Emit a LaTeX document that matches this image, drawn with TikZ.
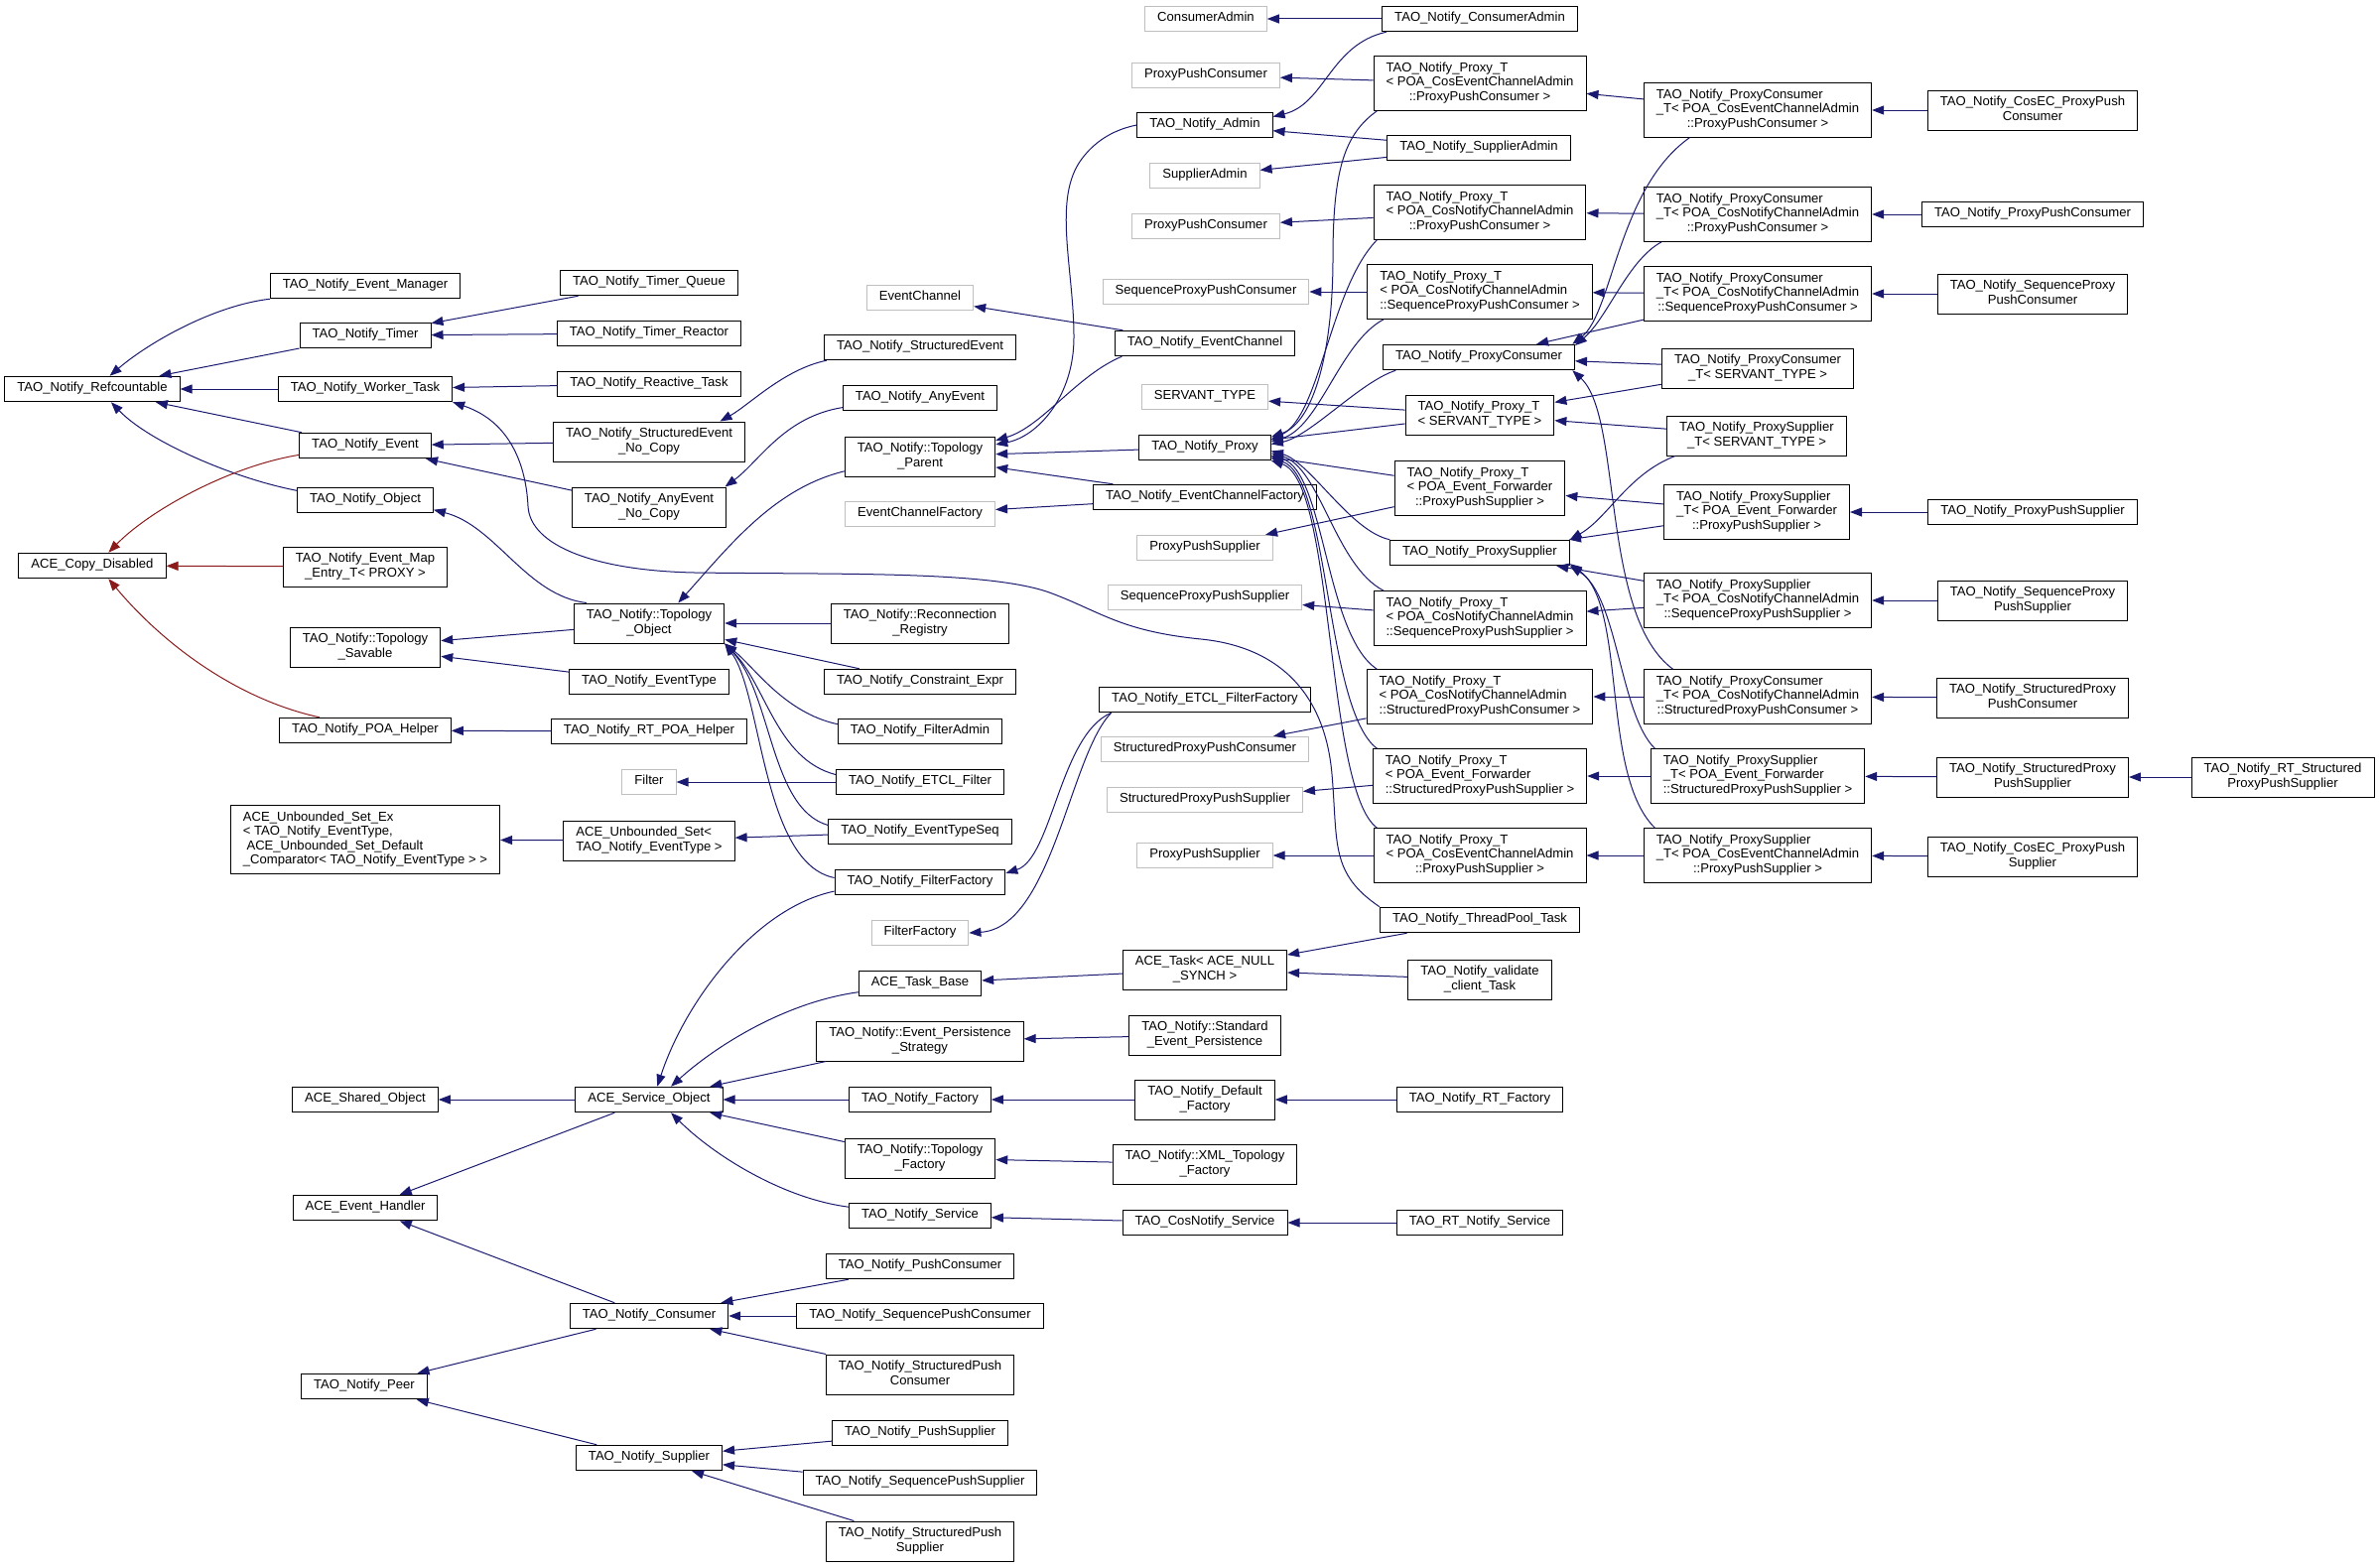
\documentclass[tikz,border=0pt]{standalone}
\usepackage{fontspec}
\setmainfont{Liberation Sans}
\usetikzlibrary{arrows.meta}
\definecolor{edgeblue}{HTML}{191970}
\definecolor{edgered}{HTML}{8B1A1A}
\definecolor{boxgray}{HTML}{BFBFBF}
\newcommand{\nlines}[1]{\begin{tabular}{@{}l@{}}#1\end{tabular}}
\newcommand{\lastline}[1]{\multicolumn{1}{@{}c@{}}{#1}}

\begin{document}
\begin{tikzpicture}[x=1pt, y=-1pt, font=\fontsize{13.1}{14.5}\selectfont,
    cls/.style={draw=black, line width=1pt, inner xsep=12.5pt, inner ysep=5.5pt},
    ext/.style={cls, draw=boxgray},
    inh/.style={draw=edgeblue, line width=1pt, {Triangle[length=12pt, width=9pt]}-},
    cpy/.style={inh, draw=edgered}]
    \path [use as bounding box, fill=white] (0,0) rectangle (2397,1579);

    \node [cls] (refc) at (93,392) {\nlines{TAO\_Notify\_Refcountable}};
    \node [cls] (copydis) at (93,570) {\nlines{ACE\_Copy\_Disabled}};

    \node [cls] (evmgr) at (368,288) {\nlines{TAO\_Notify\_Event\_Manager}};
    \node [cls] (timer) at (368,338) {\nlines{TAO\_Notify\_Timer}};
    \node [cls] (worker) at (368,392) {\nlines{TAO\_Notify\_Worker\_Task}};
    \node [cls] (event) at (368,449) {\nlines{TAO\_Notify\_Event}};
    \node [cls] (object) at (368,504) {\nlines{TAO\_Notify\_Object}};
    \node [cls] (mapentry) at (368,571) {\nlines{TAO\_Notify\_Event\_Map\\\lastline{\_Entry\_T< PROXY >}}};
    \node [cls] (savable) at (368,652) {\nlines{TAO\_Notify::Topology\\\lastline{\_Savable}}};
    \node [cls] (poahelper) at (368,736) {\nlines{TAO\_Notify\_POA\_Helper}};
    \node [cls] (unbsetex) at (368,846) {\nlines{ACE\_Unbounded\_Set\_Ex\\< TAO\_Notify\_EventType,\\\ ACE\_Unbounded\_Set\_Default\\\lastline{\_Comparator< TAO\_Notify\_EventType > >}}};
    \node [cls] (sharedobj) at (368,1108) {\nlines{ACE\_Shared\_Object}};
    \node [cls] (evhandler) at (368,1217) {\nlines{ACE\_Event\_Handler}};
    \node [cls] (peer) at (367,1397) {\nlines{TAO\_Notify\_Peer}};

    \node [cls] (tqueue) at (654,285) {\nlines{TAO\_Notify\_Timer\_Queue}};
    \node [cls] (treactor) at (654,336) {\nlines{TAO\_Notify\_Timer\_Reactor}};
    \node [cls] (reactive) at (654,387) {\nlines{TAO\_Notify\_Reactive\_Task}};
    \node [cls] (senocopy) at (654,445) {\nlines{TAO\_Notify\_StructuredEvent\\\lastline{\_No\_Copy}}};
    \node [cls] (aenocopy) at (654,511) {\nlines{TAO\_Notify\_AnyEvent\\\lastline{\_No\_Copy}}};
    \node [cls] (topobj) at (654,628) {\nlines{TAO\_Notify::Topology\\\lastline{\_Object}}};
    \node [cls] (evtype) at (654,687) {\nlines{TAO\_Notify\_EventType}};
    \node [cls] (rtpoa) at (654,737) {\nlines{TAO\_Notify\_RT\_POA\_Helper}};
    \node [ext] (filter) at (654,788) {\nlines{Filter}};
    \node [cls] (unbset) at (654,847) {\nlines{ACE\_Unbounded\_Set<\\\lastline{TAO\_Notify\_EventType >}}};
    \node [cls] (svcobj) at (654,1108) {\nlines{ACE\_Service\_Object}};
    \node [cls] (consumer) at (654,1326) {\nlines{TAO\_Notify\_Consumer}};
    \node [cls] (supplier) at (654,1469) {\nlines{TAO\_Notify\_Supplier}};

    \node [ext] (evchan) at (927,300) {\nlines{EventChannel}};
    \node [cls] (sevent) at (927,350) {\nlines{TAO\_Notify\_StructuredEvent}};
    \node [cls] (aevent) at (927,401) {\nlines{TAO\_Notify\_AnyEvent}};
    \node [cls] (topparent) at (927,460) {\nlines{TAO\_Notify::Topology\\\lastline{\_Parent}}};
    \node [ext] (ecfact) at (927,518) {\nlines{EventChannelFactory}};
    \node [cls] (reconreg) at (927,628) {\nlines{TAO\_Notify::Reconnection\\\lastline{\_Registry}}};
    \node [cls] (constr) at (927,687) {\nlines{TAO\_Notify\_Constraint\_Expr}};
    \node [cls] (filteradm) at (927,737) {\nlines{TAO\_Notify\_FilterAdmin}};
    \node [cls] (etclfilter) at (927,788) {\nlines{TAO\_Notify\_ETCL\_Filter}};
    \node [cls] (evtypeseq) at (927,838) {\nlines{TAO\_Notify\_EventTypeSeq}};
    \node [cls] (filterfact) at (927,889) {\nlines{TAO\_Notify\_FilterFactory}};
    \node [ext] (filterfactg) at (927,940) {\nlines{FilterFactory}};
    \node [cls] (taskbase) at (927,991) {\nlines{ACE\_Task\_Base}};
    \node [cls] (evpersist) at (927,1049) {\nlines{TAO\_Notify::Event\_Persistence\\\lastline{\_Strategy}}};
    \node [cls] (factory) at (927,1108) {\nlines{TAO\_Notify\_Factory}};
    \node [cls] (topfact) at (927,1167) {\nlines{TAO\_Notify::Topology\\\lastline{\_Factory}}};
    \node [cls] (service) at (927,1225) {\nlines{TAO\_Notify\_Service}};
    \node [cls] (pushcons) at (927,1276) {\nlines{TAO\_Notify\_PushConsumer}};
    \node [cls] (seqpushcons) at (927,1326) {\nlines{TAO\_Notify\_SequencePushConsumer}};
    \node [cls] (strpushcons) at (927,1385) {\nlines{TAO\_Notify\_StructuredPush\\\lastline{Consumer}}};
    \node [cls] (pushsup) at (927,1444) {\nlines{TAO\_Notify\_PushSupplier}};
    \node [cls] (seqpushsup) at (927,1494) {\nlines{TAO\_Notify\_SequencePushSupplier}};
    \node [cls] (strpushsup) at (927,1553) {\nlines{TAO\_Notify\_StructuredPush\\\lastline{Supplier}}};

    \node [ext] (consadmg) at (1215,19) {\nlines{ConsumerAdmin}};
    \node [ext] (ppcg) at (1215,76) {\nlines{ProxyPushConsumer}};
    \node [cls] (admin) at (1214,126) {\nlines{TAO\_Notify\_Admin}};
    \node [ext] (supadmg) at (1214,177) {\nlines{SupplierAdmin}};
    \node [ext] (ppcgb) at (1215,228) {\nlines{ProxyPushConsumer}};
    \node [ext] (seqppcg) at (1215,294) {\nlines{SequenceProxyPushConsumer}};
    \node [cls] (tevchan) at (1214,346) {\nlines{TAO\_Notify\_EventChannel}};
    \node [ext] (servantg) at (1214,400) {\nlines{SERVANT\_TYPE}};
    \node [cls] (proxy) at (1214,451) {\nlines{TAO\_Notify\_Proxy}};
    \node [cls] (tecfact) at (1214,501) {\nlines{TAO\_Notify\_EventChannelFactory}};
    \node [ext] (ppsg) at (1214,552) {\nlines{ProxyPushSupplier}};
    \node [ext] (seqppsg) at (1214,602) {\nlines{SequenceProxyPushSupplier}};
    \node [cls] (etclff) at (1214,705) {\nlines{TAO\_Notify\_ETCL\_FilterFactory}};
    \node [ext] (strppcg) at (1214,755) {\nlines{StructuredProxyPushConsumer}};
    \node [ext] (strppsg) at (1214,806) {\nlines{StructuredProxyPushSupplier}};
    \node [ext] (ppsgb) at (1214,862) {\nlines{ProxyPushSupplier}};
    \node [cls] (acetask) at (1214,977) {\nlines{ACE\_Task< ACE\_NULL\\\lastline{\_SYNCH >}}};
    \node [cls] (stdpersist) at (1214,1043) {\nlines{TAO\_Notify::Standard\\\lastline{\_Event\_Persistence}}};
    \node [cls] (deffact) at (1214,1108) {\nlines{TAO\_Notify\_Default\\\lastline{\_Factory}}};
    \node [cls] (xmlfact) at (1214,1173) {\nlines{TAO\_Notify::XML\_Topology\\\lastline{\_Factory}}};
    \node [cls] (cosnotsvc) at (1214,1232) {\nlines{TAO\_CosNotify\_Service}};

    \node [cls] (tconsadm) at (1491,19) {\nlines{TAO\_Notify\_ConsumerAdmin}};
    \node [cls] (ptecppc) at (1491,84) {\nlines{TAO\_Notify\_Proxy\_T\\< POA\_CosEventChannelAdmin\\\lastline{::ProxyPushConsumer >}}};
    \node [cls] (tsupadm) at (1490,149) {\nlines{TAO\_Notify\_SupplierAdmin}};
    \node [cls] (ptncppc) at (1491,214) {\nlines{TAO\_Notify\_Proxy\_T\\< POA\_CosNotifyChannelAdmin\\\lastline{::ProxyPushConsumer >}}};
    \node [cls] (ptnsppc) at (1491,294) {\nlines{TAO\_Notify\_Proxy\_T\\< POA\_CosNotifyChannelAdmin\\\lastline{::SequenceProxyPushConsumer >}}};
    \node [cls] (pcons) at (1490,360) {\nlines{TAO\_Notify\_ProxyConsumer}};
    \node [cls] (ptserv) at (1491,418) {\nlines{TAO\_Notify\_Proxy\_T\\\lastline{< SERVANT\_TYPE >}}};
    \node [cls] (ptefpps) at (1491,492) {\nlines{TAO\_Notify\_Proxy\_T\\< POA\_Event\_Forwarder\\\lastline{::ProxyPushSupplier >}}};
    \node [cls] (psup) at (1491,557) {\nlines{TAO\_Notify\_ProxySupplier}};
    \node [cls] (ptnspps) at (1491,623) {\nlines{TAO\_Notify\_Proxy\_T\\< POA\_CosNotifyChannelAdmin\\\lastline{::SequenceProxyPushSupplier >}}};
    \node [cls] (ptnstppc) at (1491,702) {\nlines{TAO\_Notify\_Proxy\_T\\< POA\_CosNotifyChannelAdmin\\\lastline{::StructuredProxyPushConsumer >}}};
    \node [cls] (ptefstpps) at (1491,782) {\nlines{TAO\_Notify\_Proxy\_T\\< POA\_Event\_Forwarder\\\lastline{::StructuredProxyPushSupplier >}}};
    \node [cls] (ptecpps) at (1491,862) {\nlines{TAO\_Notify\_Proxy\_T\\< POA\_CosEventChannelAdmin\\\lastline{::ProxyPushSupplier >}}};
    \node [cls] (threadpool) at (1491,927) {\nlines{TAO\_Notify\_ThreadPool\_Task}};
    \node [cls] (validate) at (1491,987) {\nlines{TAO\_Notify\_validate\\\lastline{\_client\_Task}}};
    \node [cls] (rtfact) at (1491,1108) {\nlines{TAO\_Notify\_RT\_Factory}};
    \node [cls] (rtsvc) at (1491,1232) {\nlines{TAO\_RT\_Notify\_Service}};

    \node [cls] (pcecppc) at (1771,111) {\nlines{TAO\_Notify\_ProxyConsumer\\\_T< POA\_CosEventChannelAdmin\\\lastline{::ProxyPushConsumer >}}};
    \node [cls] (pcncppc) at (1771,216) {\nlines{TAO\_Notify\_ProxyConsumer\\\_T< POA\_CosNotifyChannelAdmin\\\lastline{::ProxyPushConsumer >}}};
    \node [cls] (pcnsppc) at (1771,296) {\nlines{TAO\_Notify\_ProxyConsumer\\\_T< POA\_CosNotifyChannelAdmin\\\lastline{::SequenceProxyPushConsumer >}}};
    \node [cls] (pcserv) at (1771,371) {\nlines{TAO\_Notify\_ProxyConsumer\\\lastline{\_T< SERVANT\_TYPE >}}};
    \node [cls] (psserv) at (1770,439) {\nlines{TAO\_Notify\_ProxySupplier\\\lastline{\_T< SERVANT\_TYPE >}}};
    \node [cls] (psefpps) at (1770,516) {\nlines{TAO\_Notify\_ProxySupplier\\\_T< POA\_Event\_Forwarder\\\lastline{::ProxyPushSupplier >}}};
    \node [cls] (psnspps) at (1771,605) {\nlines{TAO\_Notify\_ProxySupplier\\\_T< POA\_CosNotifyChannelAdmin\\\lastline{::SequenceProxyPushSupplier >}}};
    \node [cls] (pcnstppc) at (1771,702) {\nlines{TAO\_Notify\_ProxyConsumer\\\_T< POA\_CosNotifyChannelAdmin\\\lastline{::StructuredProxyPushConsumer >}}};
    \node [cls] (psefstpps) at (1771,782) {\nlines{TAO\_Notify\_ProxySupplier\\\_T< POA\_Event\_Forwarder\\\lastline{::StructuredProxyPushSupplier >}}};
    \node [cls] (psecpps) at (1771,862) {\nlines{TAO\_Notify\_ProxySupplier\\\_T< POA\_CosEventChannelAdmin\\\lastline{::ProxyPushSupplier >}}};

    \node [cls] (cosecppc) at (2048,111) {\nlines{TAO\_Notify\_CosEC\_ProxyPush\\\lastline{Consumer}}};
    \node [cls] (tppc) at (2048,216) {\nlines{TAO\_Notify\_ProxyPushConsumer}};
    \node [cls] (tseqppc) at (2048,296) {\nlines{TAO\_Notify\_SequenceProxy\\\lastline{PushConsumer}}};
    \node [cls] (tpps) at (2048,516) {\nlines{TAO\_Notify\_ProxyPushSupplier}};
    \node [cls] (tseqpps) at (2048,605) {\nlines{TAO\_Notify\_SequenceProxy\\\lastline{PushSupplier}}};
    \node [cls] (tstrppc) at (2048,703) {\nlines{TAO\_Notify\_StructuredProxy\\\lastline{PushConsumer}}};
    \node [cls] (tstrpps) at (2048,783) {\nlines{TAO\_Notify\_StructuredProxy\\\lastline{PushSupplier}}};
    \node [cls] (cosecpps) at (2048,863) {\nlines{TAO\_Notify\_CosEC\_ProxyPush\\\lastline{Supplier}}};
    \node [cls] (rtstrpps) at (2300,783) {\nlines{TAO\_Notify\_RT\_Structured\\\lastline{ProxyPushSupplier}}};

    \draw [inh] (refc.37) .. controls (150,345) and (215,308) .. (evmgr.south west);
    \draw [inh] (refc) -- (timer);
    \draw [inh] (refc) -- (worker);
    \draw [inh] (refc) -- (event);
    \draw [inh] (refc.-35) .. controls (150,445) and (235,482) .. (object.172);
    \draw [cpy] (copydis.39) .. controls (150,515) and (230,470) .. (event.188);
    \draw [cpy] (copydis) -- (mapentry);
    \draw [cpy] (copydis.-39) .. controls (165,650) and (240,705) .. (poahelper.164);
    \draw [inh] (timer) -- (tqueue);
    \draw [inh] (timer) -- (treactor);
    \draw [inh] (worker) -- (reactive);
    \draw [inh] (worker.south east) .. controls (515,425) and (530,470) .. (532,510)
        .. controls (534,550) and (600,575) .. (700,577)
        .. controls (850,579) and (1000,575) .. (1060,598)
        .. controls (1110,617) and (1130,636) .. (1210,644)
        .. controls (1290,652) and (1335,700) .. (1342,780)
        .. controls (1348,850) and (1340,880) .. (threadpool.north west);
    \draw [inh] (event) -- (senocopy);
    \draw [inh] (event) -- (aenocopy);
    \draw [inh] (object.-8) .. controls (500,530) and (530,600) .. (topobj.162);
    \draw [inh] (savable) -- (topobj);
    \draw [inh] (savable) -- (evtype);
    \draw [inh] (poahelper) -- (rtpoa);
    \draw [inh] (senocopy.16) .. controls (755,408) and (790,372) .. (sevent.188);
    \draw [inh] (aenocopy.15) .. controls (765,465) and (790,420) .. (aevent.187);
    \draw [inh] (topobj.35) .. controls (735,550) and (780,492) .. (topparent.191);
    \draw [inh] (topobj) -- (reconreg);
    \draw [inh] (topobj) -- (constr);
    \draw [inh] (topobj.south east) .. controls (760,672) and (790,718) .. (filteradm.175);
    \draw [inh] (topobj.south east) .. controls (772,690) and (782,765) .. (etclfilter.175);
    \draw [inh] (topobj.south east) .. controls (778,700) and (776,815) .. (evtypeseq.176);
    \draw [inh] (topobj.south east) .. controls (768,700) and (768,870) .. (filterfact.177);
    \draw [inh] (filter) -- (etclfilter);
    \draw [inh] (unbset) -- (evtypeseq);
    \draw [inh] (unbsetex) -- (unbset);
    \draw [inh] (filterfact.6) .. controls (1060,865) and (1068,740) .. (etclff.188);
    \draw [inh] (filterfactg.east) .. controls (1060,935) and (1078,760) .. (etclff.188);
    \draw [inh] (svcobj.58) .. controls (690,1010) and (760,915) .. (filterfact.186);
    \draw [inh] (svcobj.31) .. controls (720,1055) and (790,1010) .. (taskbase.188);
    \draw [inh] (svcobj) -- (evpersist);
    \draw [inh] (svcobj) -- (factory);
    \draw [inh] (svcobj) -- (topfact);
    \draw [inh] (svcobj.-31) .. controls (720,1165) and (790,1208) .. (service.173);
    \draw [inh] (sharedobj) -- (svcobj);
    \draw [inh] (evhandler) -- (svcobj);
    \draw [inh] (evhandler) -- (consumer);
    \draw [inh] (consumer) -- (pushcons);
    \draw [inh] (consumer) -- (seqpushcons);
    \draw [inh] (consumer) -- (strpushcons);
    \draw [inh] (peer) -- (consumer);
    \draw [inh] (peer) -- (supplier);
    \draw [inh] (supplier) -- (pushsup);
    \draw [inh] (supplier) -- (seqpushsup);
    \draw [inh] (supplier) -- (strpushsup);
    \draw [inh] (taskbase) -- (acetask);
    \draw [inh] (acetask) -- (threadpool);
    \draw [inh] (acetask) -- (validate);
    \draw [inh] (evpersist) -- (stdpersist);
    \draw [inh] (factory) -- (deffact);
    \draw [inh] (deffact) -- (rtfact);
    \draw [inh] (topfact) -- (xmlfact);
    \draw [inh] (service) -- (cosnotsvc);
    \draw [inh] (cosnotsvc) -- (rtsvc);

    \draw [inh] (topparent.9) .. controls (1045,440) and (1082,400) .. (1082,340)
        .. controls (1082,270) and (1060,200) .. (1090,160)
        .. controls (1105,140) and (1125,130) .. (admin.west);
    \draw [inh] (topparent.12) .. controls (1050,430) and (1085,378) .. (tevchan.189);
    \draw [inh] (topparent) -- (proxy);
    \draw [inh] (topparent) -- (tecfact);
    \draw [inh] (evchan) -- (tevchan);
    \draw [inh] (ecfact) -- (tecfact);
    \draw [inh] (consadmg) -- (tconsadm);
    \draw [inh] (admin.7) .. controls (1335,105) and (1340,45) .. (tconsadm.188);
    \draw [inh] (admin) -- (tsupadm);
    \draw [inh] (supadmg) -- (tsupadm);
    \draw [inh] (ppcg) -- (ptecppc);
    \draw [inh] (ppcgb) -- (ptncppc);
    \draw [inh] (seqppcg) -- (ptnsppc);
    \draw [inh] (servantg) -- (ptserv);
    \draw [inh] (ppsg) -- (ptefpps);
    \draw [inh] (seqppsg) -- (ptnspps);
    \draw [inh] (strppcg) -- (ptnstppc);
    \draw [inh] (strppsg) -- (ptefstpps);
    \draw [inh] (ppsgb) -- (ptecpps);

    \draw [inh] (proxy.9) .. controls (1325,425) and (1343,350) .. (1343,260)
        .. controls (1343,170) and (1355,135) .. (ptecppc.195);
    \draw [inh] (proxy.7) .. controls (1330,420) and (1340,290) .. (ptncppc.195);
    \draw [inh] (proxy.5) .. controls (1330,430) and (1350,345) .. (ptnsppc.196);
    \draw [inh] (proxy.3) .. controls (1320,440) and (1370,385) .. (pcons.189);
    \draw [inh] (proxy) -- (ptserv);
    \draw [inh] (proxy) -- (ptefpps);
    \draw [inh] (proxy.-3) .. controls (1320,465) and (1360,535) .. (psup.north west);
    \draw [inh] (proxy.-5) .. controls (1330,470) and (1345,570) .. (ptnspps.164);
    \draw [inh] (proxy.-7) .. controls (1335,475) and (1335,640) .. (ptnstppc.165);
    \draw [inh] (proxy.-9) .. controls (1340,480) and (1335,715) .. (ptefstpps.165);
    \draw [inh] (proxy.-11) .. controls (1345,485) and (1335,795) .. (ptecpps.165);

    \draw [inh] (ptecppc) -- (pcecppc);
    \draw [inh] (pcons.8) .. controls (1625,315) and (1630,190) .. (pcecppc.202);
    \draw [inh] (ptncppc) -- (pcncppc);
    \draw [inh] (pcons.7) .. controls (1620,320) and (1640,262) .. (pcncppc.196);
    \draw [inh] (ptnsppc) -- (pcnsppc);
    \draw [inh] (pcons) -- (pcnsppc);
    \draw [inh] (pcons) -- (pcserv);
    \draw [inh] (ptserv) -- (pcserv);
    \draw [inh] (ptserv) -- (psserv);
    \draw [inh] (psup.north east) .. controls (1620,522) and (1640,478) .. (psserv.194);
    \draw [inh] (ptefpps) -- (psefpps);
    \draw [inh] (psup) -- (psefpps);
    \draw [inh] (ptnspps) -- (psnspps);
    \draw [inh] (psup) -- (psnspps);
    \draw [inh] (ptnstppc) -- (pcnstppc);
    \draw [inh] (pcons.-8) .. controls (1635,420) and (1612,620) .. (pcnstppc.162);
    \draw [inh] (ptefstpps) -- (psefstpps);
    \draw [inh] (psup.south east) .. controls (1630,600) and (1632,720) .. (psefstpps.165);
    \draw [inh] (ptecpps) -- (psecpps);
    \draw [inh] (psup.-7) .. controls (1640,610) and (1612,780) .. (psecpps.165);

    \draw [inh] (pcecppc) -- (cosecppc);
    \draw [inh] (pcncppc) -- (tppc);
    \draw [inh] (pcnsppc) -- (tseqppc);
    \draw [inh] (psefpps) -- (tpps);
    \draw [inh] (psnspps) -- (tseqpps);
    \draw [inh] (pcnstppc) -- (tstrppc);
    \draw [inh] (psefstpps) -- (tstrpps);
    \draw [inh] (tstrpps) -- (rtstrpps);
    \draw [inh] (psecpps) -- (cosecpps);
\end{tikzpicture}
\end{document}
